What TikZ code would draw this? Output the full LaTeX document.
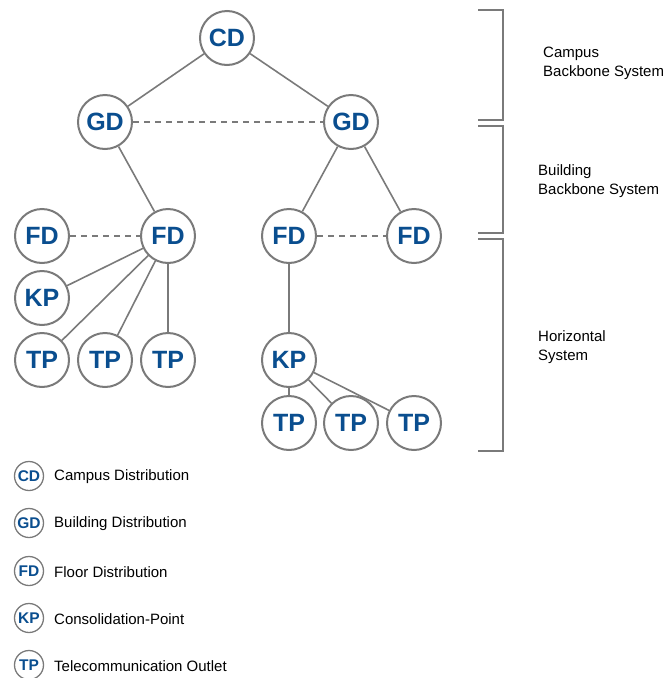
\documentclass[tikz,border=0pt]{standalone}
\usepackage{fontspec}
\setmainfont{Liberation Sans}
\definecolor{nodeblue}{HTML}{0A4E8F}
\definecolor{linegray}{HTML}{7A7A7A}
\begin{document}
\begin{tikzpicture}[x=1pt,y=-1pt,%
% common options for the big circles:
ball/.style = {circle, draw=linegray, line width=2pt, minimum size=54pt, inner sep=0,
            text=nodeblue, font=\fontsize{25}{25}\selectfont\bfseries},
% common options for the legend circles:
smallball/.style = {circle, draw=linegray, line width=1.3pt, minimum size=29pt, inner sep=0,
            text=nodeblue, font=\fontsize{15.5}{15.5}\selectfont\bfseries},
% common options for connectors:
link/.style = {draw=linegray, line width=1.6pt},
dlink/.style = {link, dash pattern=on 6pt off 5pt},
lbl/.style = {align=left, anchor=west, inner sep=0, font=\fontsize{15}{19}\selectfont}]
\useasboundingbox (0,0) rectangle (664,678);
\node[ball] (CD) at (227,38) {CD};
\node[ball] (GD1) at (105,122) {GD};
\node[ball] (GD2) at (351,122) {GD};
\node[ball] (FD1) at (42,236) {FD};
\node[ball] (FD2) at (168,236) {FD};
\node[ball] (FD3) at (289,236) {FD};
\node[ball] (FD4) at (414,236) {FD};
\node[ball] (KP1) at (42,298) {KP};
\node[ball] (TP1) at (42,360) {TP};
\node[ball] (TP2) at (105,360) {TP};
\node[ball] (TP3) at (168,360) {TP};
\node[ball] (KP2) at (289,360) {KP};
\node[ball] (TP4) at (289,423) {TP};
\node[ball] (TP5) at (351,423) {TP};
\node[ball] (TP6) at (414,423) {TP};
\draw[link] (CD) -- (GD1);
\draw[link] (CD) -- (GD2);
\draw[dlink] (GD1) -- (GD2);
\draw[link] (GD1) -- (FD2);
\draw[link] (GD2) -- (FD3);
\draw[link] (GD2) -- (FD4);
\draw[dlink] (FD1) -- (FD2);
\draw[dlink] (FD3) -- (FD4);
\draw[link] (FD2) -- (KP1);
\draw[link] (FD2) -- (TP1);
\draw[link] (FD2) -- (TP2);
\draw[link] (FD2) -- (TP3);
\draw[link] (FD3) -- (KP2);
\draw[link] (KP2) -- (TP4);
\draw[link] (KP2) -- (TP5);
\draw[link] (KP2) -- (TP6);
% brackets on the right
\draw[link] (478,10) -- (503,10) -- (503,120) -- (478,120);
\draw[link] (478,126) -- (503,126) -- (503,233) -- (478,233);
\draw[link] (478,239) -- (503,239) -- (503,451) -- (478,451);
\node[lbl] (L1) at (543,63) {Campus\\Backbone System};
\node[lbl] (L2) at (538,181) {Building\\Backbone System};
\node[lbl] (L3) at (538,347) {Horizontal\\System};
% legend
\node[smallball] (S1) at (29,476) {CD};
\node[smallball] (S2) at (29,523) {GD};
\node[smallball] (S3) at (29,571) {FD};
\node[smallball] (S4) at (29,618) {KP};
\node[smallball] (S5) at (29,665) {TP};
\node[lbl] (T1) at (54,477) {Campus Distribution};
\node[lbl] (T2) at (54,524) {Building Distribution};
\node[lbl] (T3) at (54,572) {Floor Distribution};
\node[lbl] (T4) at (54,619) {Consolidation-Point};
\node[lbl] (T5) at (54,666) {Telecommunication Outlet};
\end{tikzpicture}
\end{document}
